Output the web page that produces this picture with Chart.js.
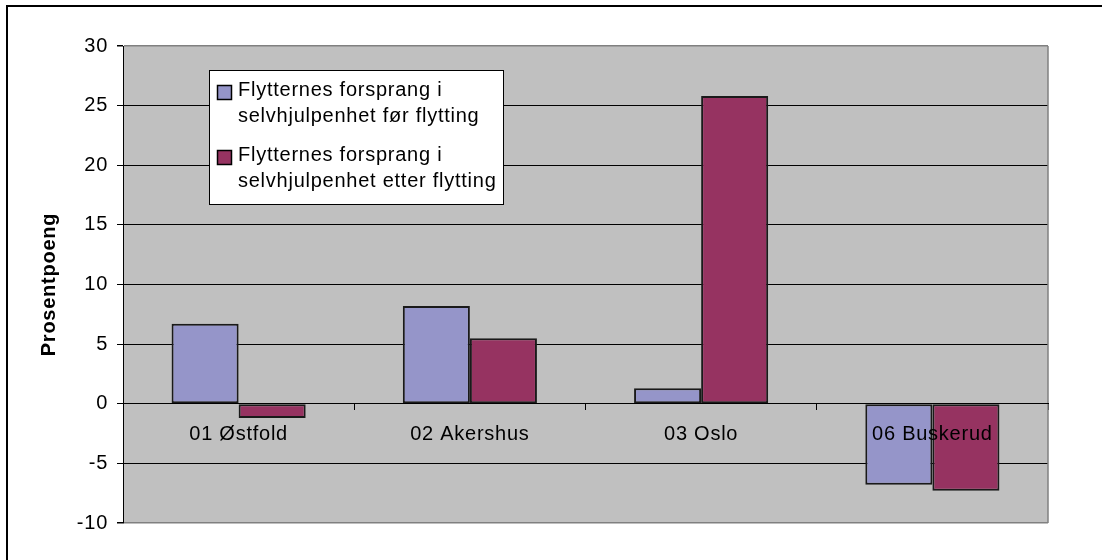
<!DOCTYPE html>
<html lang="no">
<head>
<meta charset="UTF-8">
<title>Flytternes forsprang i selvhjulpenhet</title>
<script src="https://cdn.jsdelivr.net/npm/chart.js"></script>
<style>
  body { margin: 0; background: white; }
  #wrap { position: relative; width: 1102px; height: 560px; overflow: hidden; }
  canvas { display: block; }
  #frame { position: absolute; left: 6px; top: 5px; width: 1200px; height: 700px; border: 2px solid black; pointer-events: none; }
</style>
</head>
<body>
<div id="wrap">
  <canvas id="chart" width="1102" height="560"></canvas>
  <div id="frame"></div>
</div>
<script>
const categories = ["01 Østfold", "02 Akershus", "03 Oslo", "06 Buskerud"];
const forFlytting = [6.7, 8.2, 1.3, -6.8];
const etterFlytting = [-1.2, 5.5, 25.8, -7.3];
const seriesLabels = [
    ["Flytternes forsprang i", "selvhjulpenhet før flytting"],
    ["Flytternes forsprang i", "selvhjulpenhet etter flytting"]
];
const seriesColors = ["#9595c9", "#963361"];
const yMin = -10, yMax = 30, yStep = 5;

const FONT = '"Liberation Sans", Arial, sans-serif';

// grey plot background, right edge of the plot frame, wider text spacing
const plotFrame = {
    id: 'plotFrame',
    beforeDraw(chart) {
        const { ctx, chartArea: a } = chart;
        ctx.save();
        ctx.fillStyle = '#c0c0c0';
        ctx.fillRect(a.left, a.top, a.right - a.left, a.bottom - a.top);
        ctx.restore();
        ctx.letterSpacing = '0.75px';
    },
    beforeDatasetsDraw(chart) {
        const { ctx, chartArea: a } = chart;
        ctx.save();
        ctx.strokeStyle = '#808080';
        ctx.lineWidth = 1.5;
        ctx.beginPath();
        ctx.moveTo(a.right, a.top);
        ctx.lineTo(a.right, a.bottom);
        ctx.stroke();
        ctx.restore();
    }
};

// legend box inside the plot, two lines per entry
const boxLegend = {
    id: 'boxLegend',
    afterDraw(chart) {
        const { ctx, chartArea: a } = chart;
        const x = a.left + 86, y = a.top + 24, w = 294, h = 134;
        ctx.save();
        ctx.fillStyle = '#fff';
        ctx.fillRect(x, y, w, h);
        ctx.strokeStyle = '#000';
        ctx.lineWidth = 1;
        ctx.strokeRect(x + 0.5, y + 0.5, w, h);
        ctx.font = '20px ' + FONT;
        ctx.textBaseline = 'alphabetic';
        chart.data.datasets.forEach((ds, i) => {
            const base = y + 26 + i * 65;
            ctx.fillStyle = ds.backgroundColor;
            ctx.fillRect(x + 8, base - 11, 15, 15);
            ctx.lineWidth = 1.5;
            ctx.strokeRect(x + 8.5, base - 10.5, 14, 14);
            ctx.fillStyle = '#000';
            seriesLabels[i].forEach((line, j) => ctx.fillText(line, x + 29, base + j * 26));
        });
        ctx.restore();
    }
};

new Chart(document.getElementById('chart'), {
    type: 'bar',
    data: {
        labels: categories,
        datasets: [
            {
                label: seriesLabels[0].join(' '),
                data: forFlytting,
                backgroundColor: seriesColors[0]
            },
            {
                label: seriesLabels[1].join(' '),
                data: etterFlytting,
                backgroundColor: seriesColors[1]
            }
        ]
    },
    options: {
        responsive: false,
        devicePixelRatio: 1,
        animation: false,
        layout: { padding: { left: 37, right: 54, top: 46, bottom: 37 } },
        datasets: {
            bar: {
                barPercentage: 1,
                categoryPercentage: 0.58,
                borderColor: '#1a1a1a',
                borderWidth: 2,
                borderSkipped: false
            }
        },
        plugins: {
            legend: { display: false },
            tooltip: { enabled: false }
        },
        scales: {
            x: {
                position: { y: 0 },
                ticks: {
                    color: '#000',
                    font: { family: FONT, size: 20 },
                    padding: 13,
                    maxRotation: 0,
                    autoSkip: false,
                    z: 1
                },
                grid: {
                    drawOnChartArea: false,
                    drawTicks: true,
                    tickLength: 6,
                    color: '#000',
                    offset: true
                },
                border: { color: '#000', width: 1, z: 1 }
            },
            y: {
                min: yMin,
                max: yMax,
                ticks: {
                    stepSize: yStep,
                    color: '#000',
                    font: { family: FONT, size: 20 },
                    padding: 9
                },
                grid: {
                    color: c => (c.tick && (c.tick.value === yMax || c.tick.value === yMin)) ? '#808080' : '#000',
                    lineWidth: c => (c.tick && (c.tick.value === yMax || c.tick.value === yMin)) ? 1.5 : 1,
                    tickColor: '#000',
                    tickLength: 6
                },
                border: { color: '#000', width: 1 },
                title: {
                    display: true,
                    text: 'Prosentpoeng',
                    color: '#000',
                    font: { family: FONT, size: 20, weight: 'bold' },
                    padding: { top: 0, bottom: 0 }
                },
                afterFit: s => { s.width = 86; }
            }
        }
    },
    plugins: [plotFrame, boxLegend]
});
</script>
</body>
</html>
